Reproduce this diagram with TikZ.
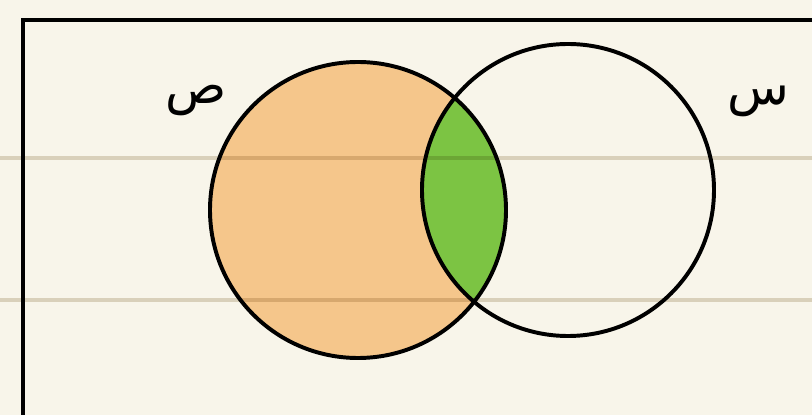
\documentclass[tikz,border=0pt]{standalone}
\usepackage{fontspec}
\newfontfamily\arabicfont[Script=Arabic]{DejaVu Sans}
\TeXXeTstate=1
\definecolor{paper}{HTML}{F8F5EA}
\definecolor{rule}{HTML}{E0D9CB}
\definecolor{peach}{HTML}{F5C68B}
\definecolor{leaf}{HTML}{7CC443}
\begin{document}
\begin{tikzpicture}[x=0.025cm, y=0.025cm, every node/.style={font=\arabicfont\fontsize{36}{42}\selectfont, inner sep=0pt}]
	% 背景
	\fill[paper] (0,0) rectangle (812,415);
	\useasboundingbox (0,0) rectangle (812,415);
	% 左圆 ص
	\fill[peach] (358,205) circle (148);
	% 交集
	\begin{scope}
		\clip (358,205) circle (148);
		\fill[leaf] (568,225) circle (146);
	\end{scope}
	% 横线
	\draw[rule, line width=2.6pt, blend mode=multiply] (0,257) -- (812,257);
	\draw[rule, line width=2.6pt, blend mode=multiply] (0,115) -- (812,115);
	% 边框
	\draw[line width=2.8pt] (23,-20) -- (23,395) -- (840,395);
	% 两圆轮廓
	\draw[line width=2.8pt] (358,205) circle (148);
	\draw[line width=2.8pt] (568,225) circle (146);
	% 标签
	\node (labS) at (196,314) {\beginR ص\endR};
	\node (labR) at (758,314) {\beginR س\endR};
\end{tikzpicture}
\end{document}
